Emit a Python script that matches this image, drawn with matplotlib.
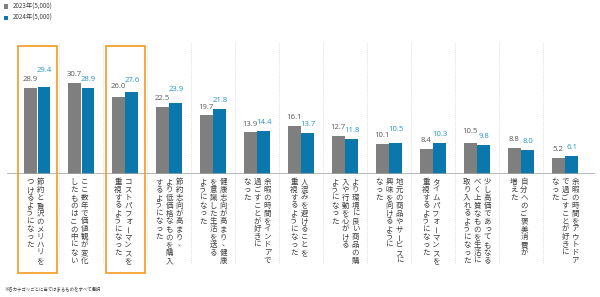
import matplotlib
matplotlib.use("Agg")
import matplotlib.pyplot as plt
from matplotlib.patches import Rectangle
import matplotlib.transforms as mtransforms

# ---------------- data ----------------
categories = [
    ["節約と贅沢のメリハリを", "つけるようになった"],
    ["ここ数年で価値観が変化", "したものはこの中にない"],
    ["コストパフォーマンスを", "重視するようになった"],
    ["節約志向が高まり、", "より低価格なものを購入", "するようになった"],
    ["健康志向が高まり、健康", "を意識した生活を送る", "ようになった"],
    ["余暇の時間をインドアで", "過ごすことが好きに", "なった"],
    ["人混みを避けることを", "重視するようになった"],
    ["より環境に良い商品の購", "入や行動を心がける", "ようになった"],
    ["地元の商品やサービスに", "興味を向けるように", "なった"],
    ["タイムパフォーマンスを", "重視するようになった"],
    ["少し高価であってもなる", "べく上質なものを生活に", "取り入れるようになった"],
    ["自分へのご褒美消費が", "増えた"],
    ["余暇の時間をアウトドア", "で過ごすことが好きに", "なった"],
]
series_names = ["2023年(5,000)", "2024年(5,000)"]
values_2023 = [28.9, 30.7, 26.0, 22.5, 19.7, 13.9, 16.1, 12.7, 10.1, 8.4, 10.5, 8.8, 5.2]
values_2024 = [29.4, 28.9, 27.6, 23.9, 21.8, 14.4, 13.7, 11.8, 10.5, 10.3, 9.8, 8.0, 6.1]
highlighted = [0, 2]
footnote = "※各カテゴリごとに当てはまるものをすべて選択"

# ---------------- style ----------------
GRAY = "#7F7F7F"
BLUE = "#0A78AC"
GRAY_TXT = "#595959"
BLUE_TXT = "#2596CE"
ORANGE = "#F39A1E"
JP = ["Noto Sans CJK JP", "DejaVu Sans"]
NUM = ["Open Sans", "DejaVu Sans"]
PX = 0.72  # points per pixel at 100 dpi

# extra label lift in pixels (manual placements in the original)
lift_2023 = [0, 0, 2.3, 0, 0, 0, 0, 0, 0, 0, 2.4, 0, 0]
lift_2024 = [7.5, 0, 3.5, 5.4, 0, 0, 0, 0, 5.0, 0.5, 0, 0, 0]

fig = plt.figure(figsize=(6.0, 2.97), dpi=100)
base_px = 173.5
top_px = 43.0
ax = fig.add_axes([7 / 600, (297 - base_px) / 297, 588 / 600, (base_px - top_px) / 297])
ax.set_xlim(-0.686, 12.68)
ax.set_ylim(0, (base_px - top_px) / 2.95)
ax.axis("off")

bw = 0.295
x = list(range(len(categories)))
x1 = [i - 0.155 for i in x]
x2 = [i + 0.155 for i in x]
ax.bar(x1, values_2023, width=bw, color=GRAY, label=series_names[0], zorder=2)
ax.bar(x2, values_2024, width=bw, color=BLUE, label=series_names[1], zorder=2)
ax.axhline(0, color="#A6A6A6", lw=1.1, zorder=3)

axh = base_px - top_px
def ay(px_from_top):
    return (base_px - px_from_top) / axh

blend = mtransforms.blended_transform_factory(ax.transData, ax.transAxes)

# dotted separators
for i in range(len(categories) - 1):
    ax.plot([i + 0.5, i + 0.5], [1.0, ay(264)], transform=blend, color="#CFCFCF",
            lw=0.6, ls=(0, (1, 1.6)), clip_on=False, zorder=1)

# highlight boxes
for i in highlighted:
    ax.add_patch(Rectangle((i - 0.43, ay(273)), 0.87, ay(46) - ay(273), transform=blend,
                           fill=False, ec=ORANGE, lw=1.2, clip_on=False, zorder=4))

# value labels
for xi, v, lf in zip(x1, values_2023, lift_2023):
    ax.annotate(f"{v:.1f}", xy=(xi, v), xytext=(0, (8.3 + lf) * PX), textcoords="offset points",
                ha="center", va="center", fontsize=5.6, color=GRAY_TXT, family=NUM,
                annotation_clip=False)
for xi, v, lf in zip(x2, values_2024, lift_2024):
    ax.annotate(f"{v:.1f}", xy=(xi, v), xytext=(0.3 * PX, (8.3 + lf) * PX), textcoords="offset points",
                ha="center", va="center", fontsize=5.6, color=BLUE_TXT, family=NUM,
                annotation_clip=False)

# vertical category labels (columns right-to-left, characters top-to-bottom)
small = set("ぁぃぅぇぉっゃゅょゎァィゥェォッャュョヮ")
punct = set("、。")
step = 7.9
first = 8.5
col_gap = 10.2
for i, cols in enumerate(categories):
    n = len(cols)
    if n == 3:
        xs = [col_gap, 0, -col_gap]
    else:
        xs = [3.0, 3.0 - col_gap]
    for cx, col in zip(xs, cols):
        for k, ch in enumerate(col):
            dx, dy, rot = 0.0, 0.0, 0
            if ch in small:
                dx, dy = 0.8, 0.3
            elif ch in punct:
                dx, dy = 2.0, 0.3
            elif ch == "ー":
                rot = 90
            ax.annotate(ch, xy=(i, 0), xytext=((cx + dx) * PX, (-first - k * step + dy) * PX),
                        textcoords="offset points", ha="center", va="center",
                        fontsize=5.4, color="#404040", family=JP, rotation=rot,
                        annotation_clip=False)

# legend
fig.legend(loc="upper left", bbox_to_anchor=(2 / 600, 1 - 1 / 297), frameon=False,
           prop={"family": JP, "size": 4.5}, handlelength=0.7, handleheight=0.7,
           handletextpad=0.8, labelspacing=0.55, borderpad=0.25, borderaxespad=0,
           labelcolor="#404040")

fig.text(4 / 600, 1 - 289.3 / 297, footnote, ha="left", va="center", fontsize=3.2,
         color="#404040", family=JP)

fig.savefig("out.png", dpi=100)
